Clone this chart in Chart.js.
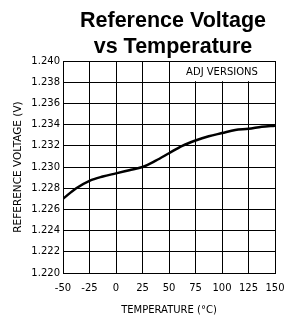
<!DOCTYPE html>
<html>
<head>
<meta charset="utf-8">
<script src="https://cdn.jsdelivr.net/npm/chart.js@4/dist/chart.umd.min.js"></script>
<style>
  html, body { margin: 0; padding: 0; background: #fff; }
  #wrap { width: 287px; height: 320px; }
</style>
</head>
<body>
<div id="wrap"><canvas id="grafico"></canvas></div>
<script>
// datos
const temperaturas = [-50, -37.5, -25, -12.5, 0, 12.5, 25, 37.5, 50, 62.5, 75, 87.5, 100, 112.5, 125, 137.5, 150];
const voltajes = [1.2270, 1.2280, 1.2287, 1.2291, 1.2294, 1.2297, 1.2300, 1.2306, 1.2313, 1.2320, 1.2325, 1.2329, 1.2332, 1.2335, 1.2336, 1.2338, 1.2339];
const titulo = ['Reference Voltage', 'vs Temperature'];
const etiquetaVersion = 'ADJ VERSIONS';

const fuente = 'DejaVu Sans';

const puntos = temperaturas.map((t, i) => ({ x: t, y: voltajes[i] }));

// titulo centrado sobre el area del grafico
const pluginTitulo = {
  id: 'titulo',
  afterDraw(chart) {
    const ctx = chart.ctx;
    const area = chart.chartArea;
    const cx = (area.left + area.right) / 2 + 4;
    ctx.save();
    ctx.fillStyle = '#000';
    ctx.font = 'bold 21.5px "Liberation Sans", Arial, sans-serif';
    ctx.textAlign = 'center';
    ctx.textBaseline = 'alphabetic';
    ctx.fillText(titulo[0], cx, 27);
    ctx.fillText(titulo[1], cx, 53);
    ctx.restore();
  }
};

// recuadro "ADJ VERSIONS"
const pluginEtiqueta = {
  id: 'etiqueta',
  beforeDatasetsDraw(chart) {
    const ctx = chart.ctx;
    const x = chart.scales.x;
    const y = chart.scales.y;
    const x0 = x.getPixelForValue(50) + 1;
    const x1 = x.getPixelForValue(150) - 1;
    const y0 = y.getPixelForValue(1.240) + 1;
    const y1 = y.getPixelForValue(1.238) - 1;
    ctx.save();
    ctx.fillStyle = '#fff';
    ctx.fillRect(x0, y0, x1 - x0, y1 - y0);
    ctx.fillStyle = '#000';
    ctx.font = '10px "' + fuente + '"';
    ctx.textAlign = 'center';
    ctx.textBaseline = 'middle';
    ctx.fillText(etiquetaVersion, x.getPixelForValue(100), (y0 + y1) / 2 + 1);
    ctx.restore();
  }
};

const ctx = document.getElementById('grafico').getContext('2d');
const chart = new Chart(ctx, {
  type: 'line',
  data: {
    datasets: [{
      data: puntos,
      borderColor: '#000',
      borderWidth: 2.5,
      pointRadius: 0,
      fill: false,
      cubicInterpolationMode: 'monotone'
    }]
  },
  options: {
    responsive: true,
    maintainAspectRatio: false,
    animation: false,
    layout: { padding: { top: 61, right: 12, left: 0, bottom: 0 } },
    plugins: {
      legend: { display: false },
      title: { display: false },
      tooltip: { enabled: false }
    },
    scales: {
      x: {
        type: 'linear',
        min: -50,
        max: 150,
        afterFit(scale) {
          scale.height = 47;
          scale.paddingLeft = 0;
          scale.paddingRight = 0;
        },
        ticks: {
          stepSize: 25,
          color: '#000',
          font: { family: fuente, size: 10 },
          padding: 9,
          maxRotation: 0
        },
        grid: { color: '#000', lineWidth: 1, drawTicks: false },
        border: { color: '#000', width: 1 },
        title: {
          display: true,
          text: 'TEMPERATURE (°C)',
          color: '#000',
          font: { family: fuente, size: 10 },
          padding: { top: 6 }
        }
      },
      y: {
        min: 1.220,
        max: 1.240,
        afterFit(scale) {
          scale.width = 63;
          scale.paddingTop = 0;
          scale.paddingBottom = 0;
        },
        ticks: {
          stepSize: 0.002,
          color: '#000',
          font: { family: fuente, size: 10 },
          padding: 3,
          callback: v => v.toFixed(3)
        },
        grid: { color: '#000', lineWidth: 1, drawTicks: false },
        border: { color: '#000', width: 1 },
        title: {
          display: true,
          text: 'REFERENCE VOLTAGE (V)',
          color: '#000',
          font: { family: fuente, size: 10.5 },
          padding: { top: 12, bottom: 0 }
        }
      }
    }
  },
  plugins: [pluginEtiqueta, pluginTitulo]
});
</script>
</body>
</html>
